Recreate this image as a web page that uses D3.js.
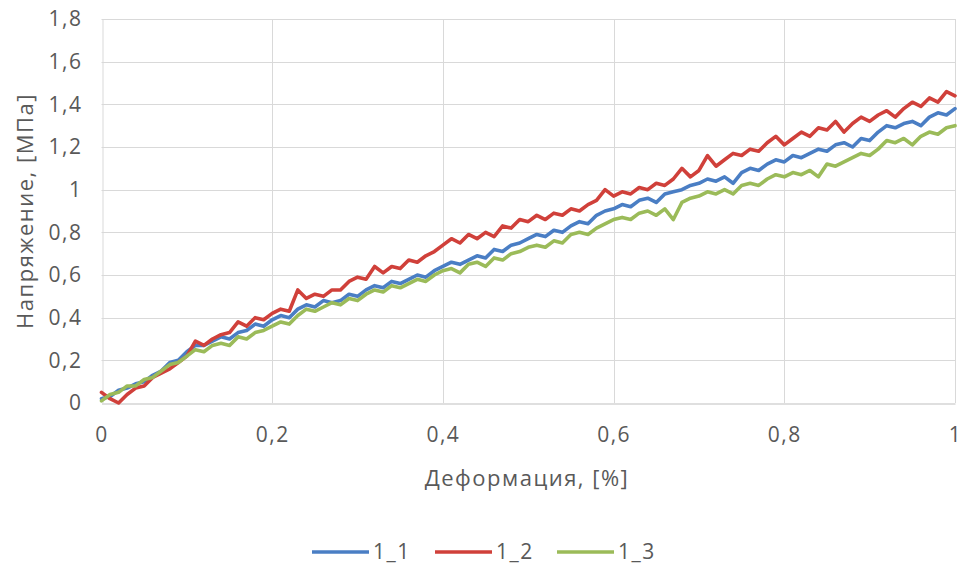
<!DOCTYPE html>
<html>
<head>
<meta charset="utf-8">
<script src="https://cdn.jsdelivr.net/npm/d3@7"></script>
<style>
  html, body { margin: 0; padding: 0; background: #fff; }
  svg text { font-family: "Open Sans", "Liberation Sans", sans-serif; fill: #595959; }
</style>
</head>
<body>
<svg id="chart" width="966" height="567"></svg>
<script>
// strain, % (0 .. 1 step 0.01)
const strain = d3.range(0, 101).map(i => i / 100);

const seriesNames = ["1_1", "1_2", "1_3"];
const seriesColors = ["#4A7EC4", "#D0403A", "#9BBB59"];

const s1_1 = [0.02,0.03,0.06,0.07,0.09,0.10,0.13,0.15,0.19,0.20,0.24,
  0.27,0.27,0.29,0.31,0.30,0.33,0.34,0.37,0.36,0.39,
  0.41,0.40,0.44,0.46,0.45,0.48,0.47,0.48,0.51,0.50,
  0.53,0.55,0.54,0.57,0.56,0.58,0.60,0.59,0.62,0.64,
  0.66,0.65,0.67,0.69,0.68,0.72,0.71,0.74,0.75,0.77,
  0.79,0.78,0.81,0.80,0.83,0.85,0.84,0.88,0.90,0.91,
  0.93,0.92,0.95,0.96,0.94,0.98,0.99,1.00,1.02,1.03,
  1.05,1.04,1.06,1.03,1.08,1.10,1.09,1.12,1.14,1.13,
  1.16,1.15,1.17,1.19,1.18,1.21,1.22,1.20,1.24,1.23,
  1.27,1.30,1.29,1.31,1.32,1.30,1.34,1.36,1.35,1.38];

const s1_2 = [0.05,0.02,0.00,0.04,0.07,0.08,0.12,0.14,0.16,0.19,0.22,
  0.29,0.27,0.30,0.32,0.33,0.38,0.36,0.40,0.39,0.42,
  0.44,0.43,0.53,0.49,0.51,0.50,0.53,0.53,0.57,0.59,
  0.58,0.64,0.61,0.64,0.63,0.67,0.66,0.69,0.71,0.74,
  0.77,0.75,0.79,0.77,0.80,0.78,0.83,0.82,0.86,0.85,
  0.88,0.86,0.89,0.88,0.91,0.90,0.93,0.95,1.00,0.97,
  0.99,0.98,1.01,1.00,1.03,1.02,1.05,1.10,1.06,1.09,
  1.16,1.11,1.14,1.17,1.16,1.19,1.18,1.22,1.25,1.21,
  1.24,1.27,1.25,1.29,1.28,1.32,1.27,1.31,1.34,1.32,
  1.35,1.37,1.34,1.38,1.41,1.39,1.43,1.41,1.46,1.44];

const s1_3 = [0.01,0.04,0.05,0.08,0.08,0.11,0.12,0.15,0.18,0.19,0.22,
  0.25,0.24,0.27,0.28,0.27,0.31,0.30,0.33,0.34,0.36,
  0.38,0.37,0.41,0.44,0.43,0.45,0.47,0.46,0.49,0.48,
  0.51,0.53,0.52,0.55,0.54,0.56,0.58,0.57,0.60,0.62,
  0.63,0.61,0.65,0.66,0.64,0.68,0.67,0.70,0.71,0.73,
  0.74,0.73,0.76,0.75,0.79,0.80,0.79,0.82,0.84,0.86,
  0.87,0.86,0.89,0.90,0.88,0.91,0.86,0.94,0.96,0.97,
  0.99,0.98,1.00,0.98,1.02,1.03,1.02,1.05,1.07,1.06,
  1.08,1.07,1.09,1.06,1.12,1.11,1.13,1.15,1.17,1.16,
  1.19,1.23,1.22,1.24,1.21,1.25,1.27,1.26,1.29,1.30];

const xTicks = [0, 0.2, 0.4, 0.6, 0.8, 1];
const yTicks = [0, 0.2, 0.4, 0.6, 0.8, 1, 1.2, 1.4, 1.6, 1.8];
const xTitle = "Деформация, [%]";
const yTitle = "Напряжение, [МПа]";

const seriesValues = [s1_1, s1_2, s1_3];

const svg = d3.select("#chart");
const margin = {left: 101.5, right: 11, top: 19, bottom: 164};
const W = 966, H = 567;
const x = d3.scaleLinear().domain([0, 1]).range([margin.left, W - margin.right]);
const y = d3.scaleLinear().domain([0, 1.8]).range([H - margin.bottom, margin.top]);

const fmt = v => String(+v.toFixed(1)).replace(".", ",");

// grid
const g = svg.append("g");
g.selectAll("line.h").data(yTicks.slice(1)).join("line")
  .attr("x1", x(0)).attr("x2", x(1))
  .attr("y1", d => Math.round(y(d)) + 0.5).attr("y2", d => Math.round(y(d)) + 0.5)
  .attr("stroke", "#d9d9d9").attr("stroke-width", 1);
g.selectAll("line.v").data(xTicks.slice(1)).join("line")
  .attr("y1", y(0)).attr("y2", y(1.8))
  .attr("x1", d => Math.round(x(d)) + 0.5).attr("x2", d => Math.round(x(d)) + 0.5)
  .attr("stroke", "#d9d9d9").attr("stroke-width", 1);

// axes
const xAxis = svg.append("g").attr("transform", `translate(0,${Math.round(y(0)) + 0.5})`)
  .call(d3.axisBottom(x).tickValues(xTicks).tickFormat(fmt).tickSize(0).tickPadding(24));
xAxis.select(".domain").attr("stroke", "#bfbfbf");
xAxis.selectAll("text").style("font-size", "21px").style("letter-spacing", "1.5px").attr("fill", "#595959");

const yAxis = svg.append("g").attr("transform", `translate(${Math.round(x(0)) + 0.5},0)`)
  .call(d3.axisLeft(y).tickValues(yTicks).tickFormat(fmt).tickSize(0).tickPadding(20));
yAxis.select(".domain").attr("stroke", "#d9d9d9");
yAxis.selectAll("text").style("font-size", "21px").style("letter-spacing", "1.5px").attr("fill", "#595959");

// lines
const line = d3.line().x((d, i) => x(strain[i])).y(d => y(d));
svg.append("g").selectAll("path").data(seriesValues).join("path")
  .attr("d", d => line(d))
  .attr("fill", "none")
  .attr("stroke", (d, i) => seriesColors[i])
  .attr("stroke-width", 3.6)
  .attr("stroke-linejoin", "round")
  .attr("stroke-linecap", "round");

// titles
svg.append("text").attr("x", 527).attr("y", 486).attr("text-anchor", "middle")
  .style("font-size", "22px").style("letter-spacing", "1.5px").text(xTitle);
svg.append("text").attr("transform", "translate(33,211) rotate(-90)").attr("text-anchor", "middle")
  .style("font-size", "22px").style("letter-spacing", "1.5px").text(yTitle);

// legend
const legendX = [312, 435, 557];
const lg = svg.append("g");
seriesNames.forEach((n, i) => {
  lg.append("line").attr("x1", legendX[i]).attr("x2", legendX[i] + 57)
    .attr("y1", 552).attr("y2", 552)
    .attr("stroke", seriesColors[i]).attr("stroke-width", 3.6);
  lg.append("text").attr("x", legendX[i] + 61).attr("y", 559)
    .style("font-size", "21px").style("letter-spacing", "1.5px").text(n);
});
</script>
</body>
</html>
